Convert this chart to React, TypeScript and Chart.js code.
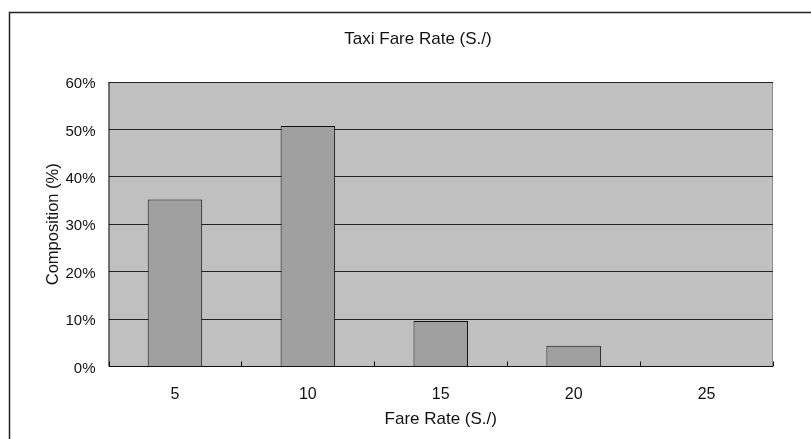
import React, { useEffect, useRef } from "react";
import { Chart, registerables } from "chart.js";

Chart.register(...registerables);

const chartTitle = "Taxi Fare Rate (S./)";
const xTitle = "Fare Rate (S./)";
const yTitle = "Composition (%)";
const fareRates = ["5", "10", "15", "20", "25"];
const composition = [35.2, 50.7, 9.6, 4.4, 0];
const yTicks = [0, 10, 20, 30, 40, 50, 60];

const FONT = "'Liberation Sans', Arial, sans-serif";

const decorations = {
  id: "decorations",
  beforeDraw(chart: any) {
    const { ctx, chartArea } = chart;
    ctx.save();
    ctx.fillStyle = "#ffffff";
    ctx.fillRect(0, 0, chart.width, chart.height);
    // outer frame
    ctx.strokeStyle = "#222";
    ctx.lineWidth = 1.5;
    ctx.strokeRect(9.5, 12.5, chart.width + 20, chart.height + 20);
    // plot area fill
    ctx.fillStyle = "#c0c0c0";
    ctx.fillRect(chartArea.left, chartArea.top, chartArea.right - chartArea.left, chartArea.bottom - chartArea.top);
    // plot area gray border (top, right)
    ctx.strokeStyle = "#8a8a8a";
    ctx.lineWidth = 1;
    ctx.beginPath();
    ctx.moveTo(chartArea.left, chartArea.top + 0.5);
    ctx.lineTo(chartArea.right - 0.5, chartArea.top + 0.5);
    ctx.lineTo(chartArea.right - 0.5, chartArea.bottom);
    ctx.stroke();
    ctx.restore();
  },
  afterDraw(chart: any) {
    const { ctx, chartArea, scales } = chart;
    const x = scales.x;
    ctx.save();
    // axis lines
    ctx.strokeStyle = "#111";
    ctx.lineWidth = 1;
    ctx.beginPath();
    ctx.moveTo(chartArea.left + 0.5, chartArea.top);
    ctx.lineTo(chartArea.left + 0.5, chartArea.bottom);
    ctx.lineTo(chartArea.right, chartArea.bottom);
    ctx.stroke();
    // tick marks between categories, pointing into the plot
    ctx.beginPath();
    for (let i = 0; i <= fareRates.length; i++) {
      const px = Math.round(x.getPixelForValue(i - 0.5)) + 0.5;
      ctx.moveTo(px, chartArea.bottom);
      ctx.lineTo(px, chartArea.bottom - 5);
    }
    ctx.stroke();
    // titles
    ctx.fillStyle = "#111";
    ctx.textAlign = "center";
    ctx.textBaseline = "alphabetic";
    ctx.font = `17px ${FONT}`;
    ctx.fillText(chartTitle, 418, 44);
    ctx.fillText(xTitle, (chartArea.left + chartArea.right) / 2, 424);
    ctx.font = `16.5px ${FONT}`;
    ctx.translate(58, (chartArea.top + chartArea.bottom) / 2);
    ctx.rotate(-Math.PI / 2);
    ctx.fillText(yTitle, 0, 0);
    ctx.restore();
  },
};

export default function App() {
  const ref = useRef<HTMLCanvasElement>(null);
  useEffect(() => {
    document.body.style.margin = "0";
    const chart = new Chart(ref.current!, {
      type: "bar",
      data: {
        labels: fareRates,
        datasets: [
          {
            data: composition,
            backgroundColor: "#a0a0a0",
            borderColor: "#111",
            borderWidth: 1,
            categoryPercentage: 1,
            barPercentage: 0.41,
          },
        ],
      },
      options: {
        animation: false,
        responsive: false,
        devicePixelRatio: 1,
        layout: { padding: { top: 82, right: 38, left: 0, bottom: 0 } },
        plugins: { legend: { display: false }, tooltip: { enabled: false }, title: { display: false } },
        scales: {
          x: {
            grid: { display: false, drawTicks: false },
            border: { display: false },
            ticks: { padding: 18, color: "#111", font: { family: FONT, size: 16 } },
            afterFit(scale: any) {
              scale.height = 72.5;
            },
          },
          y: {
            min: 0,
            max: 60,
            afterBuildTicks(scale: any) {
              scale.ticks = yTicks.map((v) => ({ value: v }));
            },
            grid: { color: "#222", lineWidth: 1, drawTicks: false },
            border: { display: false },
            ticks: {
              padding: 13,
              labelOffset: 2,
              color: "#111",
              font: { family: FONT, size: 15 },
              callback: (v: any) => `${v}%`,
            },
            afterFit(scale: any) {
              scale.width = 108.5;
            },
          },
        },
      },
      plugins: [decorations],
    });
    return () => chart.destroy();
  }, []);
  return <canvas ref={ref} width={811} height={439} style={{ display: "block" }} />;
}
